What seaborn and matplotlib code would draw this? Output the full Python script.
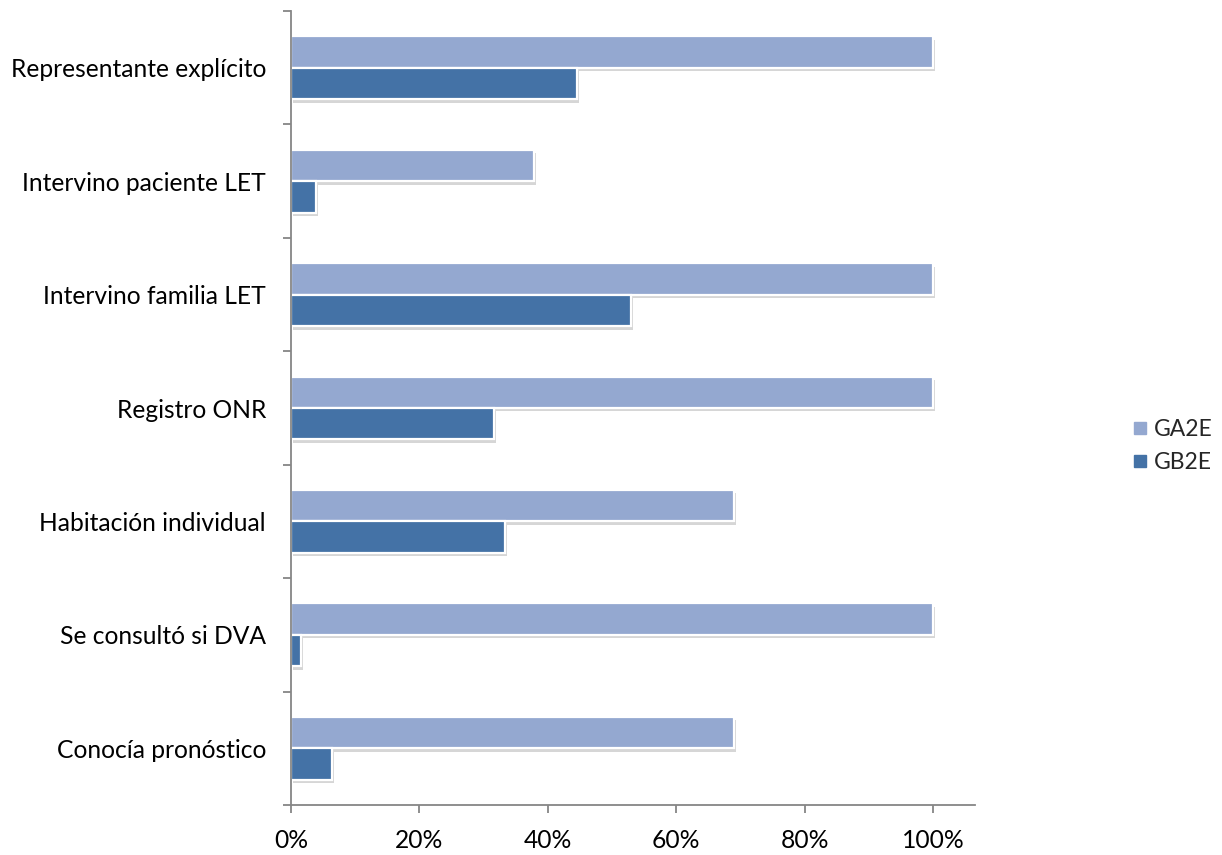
import matplotlib
matplotlib.use("Agg")
import matplotlib.pyplot as plt
import matplotlib.patheffects as pe
from matplotlib.lines import Line2D
from matplotlib.ticker import PercentFormatter, FixedLocator
import seaborn as sns
import pandas as pd

categories = ["Representante explícito", "Intervino paciente LET", "Intervino familia LET",
              "Registro ONR", "Habitación individual", "Se consultó si DVA", "Conocía pronóstico"]
series = ["GA2E", "GB2E"]
ga2e = [100.0, 37.9, 100.0, 100.0, 69.0, 100.0, 69.0]
gb2e = [44.5, 3.9, 53.0, 31.6, 33.3, 1.6, 6.4]
xticks = [0, 20, 40, 60, 80, 100]
colors = ["#94A8D0", "#4472A6"]

df = pd.DataFrame({
    "cat": categories * 2,
    "serie": [series[0]] * len(categories) + [series[1]] * len(categories),
    "val": ga2e + gb2e,
})

sns.set_theme(style="white")
plt.rcParams["font.family"] = ["Lato", "DejaVu Sans"]

fig = plt.figure(figsize=(12.22, 8.55), dpi=100)
ax = fig.add_axes([291 / 1222, 1 - 805 / 855, (975 - 291) / 1222, (805 - 11) / 855])

sns.barplot(data=df, y="cat", x="val", hue="serie", order=categories, hue_order=series,
            palette=colors, orient="h", width=0.555, ax=ax, legend=False,
            edgecolor="white", linewidth=1.6, saturation=1)

for p in ax.patches:
    p.set_path_effects([pe.SimplePatchShadow(offset=(1.5, -2.5), shadow_rgbFace="#7a7a7a", alpha=0.3),
                        pe.Normal()])

ax.set_xlim(0, 106.5)
ax.set_ylim(len(categories) - 0.5, -0.5)
ax.set_xlabel("")
ax.set_ylabel("")
ax.xaxis.set_major_locator(FixedLocator(xticks))
ax.xaxis.set_major_formatter(PercentFormatter(decimals=0))

for s in ["top", "right"]:
    ax.spines[s].set_visible(False)
for s in ["left", "bottom"]:
    ax.spines[s].set_color("#868686")
    ax.spines[s].set_linewidth(1.3)

ax.yaxis.set_minor_locator(FixedLocator([i - 0.5 for i in range(len(categories) + 1)]))
ax.tick_params(axis="y", which="major", length=0, pad=18, labelsize=17.7, labelcolor="black")
ax.tick_params(axis="y", which="minor", length=5.5, width=1.3, color="#868686", direction="out", left=True)
ax.tick_params(axis="x", which="major", length=5.5, width=1.3, color="#868686", direction="out",
               bottom=True, pad=12, labelsize=17.7, labelcolor="black")

handles = [Line2D([0], [0], marker="s", linestyle="none", markersize=8,
                  markerfacecolor=c, markeredgecolor=c) for c in colors]
fig.legend(handles, series, loc="center left", bbox_to_anchor=(1108 / 1222, 1 - 446 / 855),
           frameon=False, fontsize=16.5, handletextpad=0.1, labelspacing=0.5, handlelength=1.0)

fig.savefig("out.png", dpi=100, facecolor="white")
